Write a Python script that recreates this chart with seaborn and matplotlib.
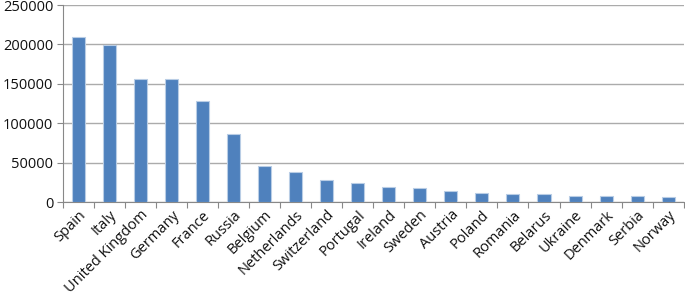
import numpy as np
import pandas as pd
import matplotlib
matplotlib.use("Agg")
import matplotlib.pyplot as plt
import seaborn as sns

# values
countries = ["Spain", "Italy", "United Kingdom", "Germany", "France", "Russia",
             "Belgium", "Netherlands", "Switzerland", "Portugal", "Ireland",
             "Sweden", "Austria", "Poland", "Romania", "Belarus", "Ukraine",
             "Denmark", "Serbia", "Norway"]
values = [209000, 199500, 156100, 155700, 128200, 86300, 46100, 37700, 27900,
          23700, 18600, 17800, 14400, 11400, 10500, 10500, 8000, 7200, 7200, 6300]
y_ticks = [0, 50000, 100000, 150000, 200000, 250000]

df = pd.DataFrame({"country": countries, "value": values})

sns.set_style("white")
plt.rcParams["font.family"] = ["Open Sans", "DejaVu Sans"]

fig = plt.figure(figsize=(6.85, 2.98), dpi=100)
ax = fig.add_axes([0.092, 0.322, 0.906, 0.661])

sns.barplot(data=df, x="country", y="value", color="#4F81BD", saturation=1,
            width=0.42, edgecolor="#B9CDE5", linewidth=0.8, ax=ax, zorder=3)

ax.set_ylim(0, 250000)
ax.set_xlim(-0.5, len(countries) - 0.5)
ax.set_yticks(y_ticks)
ax.set_yticklabels([str(v) for v in y_ticks], fontsize=10.5, color="#111111")
ax.yaxis.grid(True, color="#ABABAB", linewidth=1.0, zorder=0)
ax.set_xlabel("")
ax.set_ylabel("")

ax.set_xticks(range(len(countries)))
ax.set_xticklabels(countries, rotation=45, ha="right", rotation_mode="anchor",
                   fontsize=10.5, color="#111111")
ax.set_xticks(np.arange(-0.5, len(countries), 1.0), minor=True)
ax.tick_params(axis="x", which="major", length=0, pad=4)
ax.tick_params(axis="x", which="minor", length=4, color="#888888", width=0.8)
ax.tick_params(axis="y", length=4, color="#888888", width=0.8, pad=3)
ax.yaxis.set_ticks_position("left")
ax.xaxis.set_ticks_position("bottom")

for side in ["top", "right"]:
    ax.spines[side].set_visible(False)
for side in ["left", "bottom"]:
    ax.spines[side].set_color("#888888")
    ax.spines[side].set_linewidth(0.8)

fig.savefig("out.png", dpi=100)
